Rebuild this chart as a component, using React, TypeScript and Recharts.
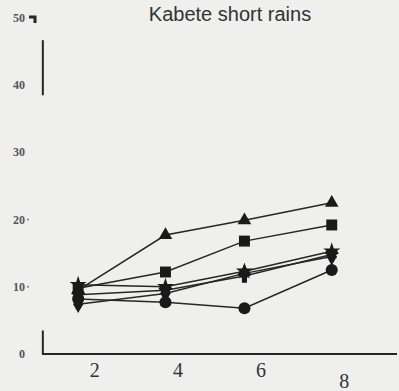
import { LineChart, Line, XAxis, YAxis, ReferenceLine, Symbols } from "recharts";

// sampling points
const weeks = [1.6, 3.7, 5.6, 7.7];

const triangleSeries = [9.5, 17.7, 19.9, 22.5];
const squareSeries = [9.8, 12.2, 16.8, 19.2];
const starSeries = [10.3, 10.0, 12.3, 15.3];
const wyeSeries = [8.8, 9.5, 11.6, 14.8];
const diamondSeries = [7.4, 9.0, 12.0, 14.5];
const circleSeries = [8.2, 7.7, 6.8, 12.5];

const xTicks = [2, 4, 6, 8];
const yTicks = [0, 10, 20, 30, 40, 50];

const series = [
  { key: "tri", values: triangleSeries, shape: "triangle", size: 80 },
  { key: "sq", values: squareSeries, shape: "square", size: 120 },
  { key: "star", values: starSeries, shape: "star", size: 90 },
  { key: "wye", values: wyeSeries, shape: "wye", size: 90 },
  { key: "dia", values: diamondSeries, shape: "diamond", size: 90 },
  { key: "circ", values: circleSeries, shape: "circle", size: 115 },
] as const;

const rows = weeks.map((w, i) => {
  const row: Record<string, number> = { week: w };
  series.forEach((s) => (row[s.key] = s.values[i]));
  return row;
});

const INK = "#262626";

const XTick = ({ x, y, payload }: any) => (
  <text
    x={x}
    y={y + (payload.value === 8 ? 26 : 15)}
    textAnchor="middle"
    fontFamily="Liberation Serif, serif"
    fontSize={20}
    fill="#333"
  >
    {payload.value}
  </text>
);

const YTick = ({ x, y, payload }: any) => (
  <g>
    <text
      x={x - 9}
      y={y + 4}
      textAnchor="end"
      fontFamily="Liberation Serif, serif"
      fontSize={12}
      fontWeight="bold"
      fill="#555"
    >
      {payload.value}
    </text>
    {payload.value === 10 || payload.value === 20 ? <circle cx={x - 6} cy={y} r={1} fill="#777" /> : null}
    {payload.value === 50 ? (
      <path d={`M${x - 5},${y - 1} L${x + 1},${y - 1} L${x + 1},${y + 5}`} stroke={INK} strokeWidth={3} fill="none" />
    ) : null}
  </g>
);

export default function App() {
  return (
    <div style={{ position: "absolute", left: 0, top: 0, width: 399, height: 391, background: "#efefed" }}>
      <div
        style={{
          position: "absolute",
          left: 0,
          width: 460,
          top: 3,
          textAlign: "center",
          fontFamily: "Liberation Sans, Arial, sans-serif",
          fontSize: 20,
          color: "#333",
        }}
      >
        Kabete short rains
      </div>
      <LineChart width={399} height={391} data={rows} margin={{ top: 18, right: 2, left: 0, bottom: 0 }}>
        <XAxis
          dataKey="week"
          type="number"
          domain={[0.73, 9.27]}
          ticks={xTicks}
          allowDataOverflow
          height={37}
          tickLine={false}
          axisLine={{ stroke: INK, strokeWidth: 2 }}
          tick={<XTick />}
        />
        <YAxis
          type="number"
          domain={[0, 50]}
          ticks={yTicks}
          width={42}
          axisLine={false}
          tickLine={false}
          tick={<YTick />}
        />
        <ReferenceLine
          segment={[
            { x: 0.75, y: 38.5 },
            { x: 0.75, y: 46.7 },
          ]}
          stroke={INK}
          strokeWidth={2}
        />
        <ReferenceLine
          segment={[
            { x: 0.75, y: 0 },
            { x: 0.75, y: 3.5 },
          ]}
          stroke={INK}
          strokeWidth={2}
        />
        {series.map((s) => (
          <Line
            key={s.key}
            dataKey={s.key}
            stroke={INK}
            strokeWidth={1.5}
            isAnimationActive={false}
            dot={(p: any) => (
              <Symbols
                key={`${s.key}-${p.index}`}
                cx={p.cx}
                cy={p.cy}
                type={s.shape}
                size={s.size}
                fill="#1a1a1a"
                stroke="none"
              />
            )}
            activeDot={false}
          />
        ))}
      </LineChart>
    </div>
  );
}
